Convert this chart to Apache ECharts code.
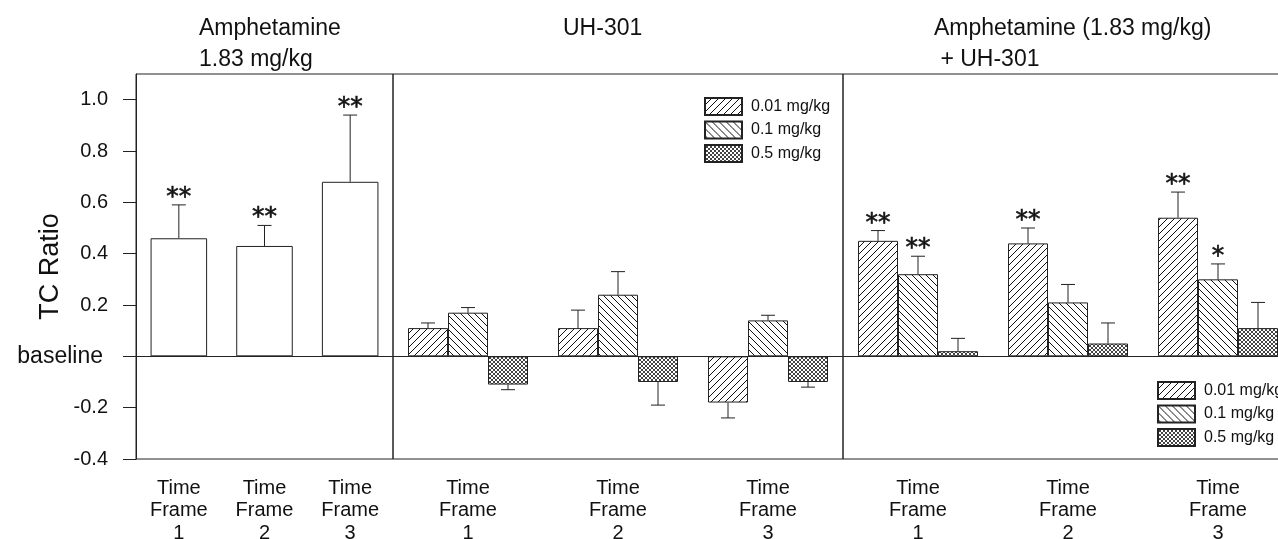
<!DOCTYPE html>
<html><head><meta charset="utf-8">
<script src="https://cdn.jsdelivr.net/npm/echarts@6/dist/echarts.min.js"></script>
<style>html,body{margin:0;padding:0;background:#fff}#c{width:1278px;height:539px}</style>
</head><body><div id="c"></div>
<script>
// ---- data ----
const categories = ['Time\nFrame\n1', 'Time\nFrame\n2', 'Time\nFrame\n3'];
const doseNames = ['0.01 mg/kg', '0.1 mg/kg', '0.5 mg/kg'];
const yTicks = [-0.4, -0.2, 0, 0.2, 0.4, 0.6, 0.8, 1.0];
const panelTitles = ['Amphetamine\n1.83 mg/kg', 'UH-301', 'Amphetamine (1.83 mg/kg)\n + UH-301'];

// Amphetamine alone
const ampMean = [0.46, 0.43, 0.68];
const ampErr  = [0.13, 0.08, 0.26];
const ampSig  = ['**', '**', '**'];

// UH-301 alone
const uh001 = [0.11, 0.11, -0.18];
const uh01  = [0.17, 0.24, 0.14];
const uh05  = [-0.11, -0.10, -0.10];
const uhErr001 = [0.02, 0.07, 0.06];
const uhErr01  = [0.02, 0.09, 0.02];
const uhErr05  = [0.02, 0.09, 0.02];

// Amphetamine + UH-301
const co001 = [0.45, 0.44, 0.54];
const co01  = [0.32, 0.21, 0.30];
const co05  = [0.02, 0.05, 0.11];
const coErr001 = [0.04, 0.06, 0.10];
const coErr01  = [0.07, 0.07, 0.06];
const coErr05  = [0.05, 0.08, 0.10];
const coSig001 = ['**', '**', '**'];
const coSig01  = ['**', '', '*'];
const coSig05  = ['', '', ''];

// ---- styles ----
const FONT = 'Liberation Sans, Arial, Helvetica, sans-serif';
const INK = '#222';

function hatch(kind, size, color) {
  const c = document.createElement('canvas');
  c.width = size; c.height = size;
  const g = c.getContext('2d');
  g.fillStyle = '#fff'; g.fillRect(0, 0, size, size);
  g.strokeStyle = color; g.lineWidth = 1;
  g.beginPath();
  if (kind === 'fwd' || kind === 'cross') {
    g.moveTo(-1, size + 1); g.lineTo(size + 1, -1);
    g.moveTo(-1, 1); g.lineTo(1, -1);
    g.moveTo(size - 1, size + 1); g.lineTo(size + 1, size - 1);
  }
  if (kind === 'back' || kind === 'cross') {
    g.moveTo(-1, -1); g.lineTo(size + 1, size + 1);
    g.moveTo(size - 1, -1); g.lineTo(size + 1, 1);
    g.moveTo(-1, size - 1); g.lineTo(1, size + 1);
  }
  g.stroke();
  return { image: c, repeat: 'repeat' };
}
const fills = [hatch('fwd', 7, '#111'), hatch('back', 7, '#111'), hatch('cross', 4, '#444')];

function errRenderer(means, errs, sigs, k, n, gapRatio) {
  return function (params, api) {
    const i = params.dataIndex;
    const v = means[i], e = errs[i];
    const band = api.size([1, 0])[0];
    const bw = band * (1 - gapRatio) / n;
    const base = api.coord([i, v]);
    const x = base[0] + (k - (n - 1) / 2) * bw;
    const tipY = api.coord([i, v >= 0 ? v + e : v - e])[1];
    const st = { stroke: INK, lineWidth: 1 };
    const ch = [
      { type: 'line', shape: { x1: x, y1: base[1], x2: x, y2: tipY }, style: st },
      { type: 'line', shape: { x1: x - 7, y1: tipY, x2: x + 7, y2: tipY }, style: st }
    ];
    if (sigs && sigs[i]) {
      ch.push({ type: 'text', style: { text: sigs[i], x: x, y: tipY + 5, align: 'center', verticalAlign: 'bottom',
        font: '25px "DejaVu Sans"', fill: '#111', stroke: '#111', lineWidth: 0.6 } });
    }
    return { type: 'group', children: ch };
  };
}

const grids = [
  { left: 136, top: 74, width: 257, height: 385 },
  { left: 393, top: 74, width: 450, height: 385 },
  { left: 843, top: 74, width: 450, height: 385 }
].map(g => Object.assign(g, { show: true, borderColor: INK, borderWidth: 1, backgroundColor: 'transparent',
  containLabel: false, outerBoundsMode: 'none' }));

const xAxes = [0, 1, 2].map(i => ({
  type: 'category', gridIndex: i, data: categories,
  axisLine: { show: false }, axisTick: { show: false },
  axisLabel: { fontSize: 20, lineHeight: 22.5, color: '#111', fontFamily: FONT, margin: 18, interval: 0 }
}));

const yAxes = [0, 1, 2].map(i => ({
  type: 'value', gridIndex: i, min: -0.4, max: 1.1, interval: 0.2,
  show: i === 0,
  splitLine: { show: false },
  axisLine: { show: true, lineStyle: { color: INK } },
  axisTick: { show: true, length: 13, inside: false, lineStyle: { color: INK }, customValues: yTicks },
  axisLabel: {
    customValues: yTicks, margin: 28, fontSize: 20, color: '#111', fontFamily: FONT,
    formatter: v => Math.abs(v) < 1e-9 ? '{b|baseline}' : v.toFixed(1),
    rich: { b: { fontSize: 23, fontFamily: FONT, color: '#111', padding: [0, 5, 0, 0] } }
  },
  name: i === 0 ? 'TC Ratio' : '', nameLocation: 'middle', nameRotate: 90, nameGap: 72, nameMoveOverlap: false,
  nameTextStyle: { fontSize: 27, color: '#111', fontFamily: FONT }
}));

const zeroLine = { silent: true, symbol: 'none', label: { show: false },
  lineStyle: { color: INK, type: 'solid', width: 1 }, emphasis: { disabled: true }, data: [{ yAxis: 0 }] };

const series = [];
// panel 1
series.push({ type: 'bar', name: 'Amphetamine', xAxisIndex: 0, yAxisIndex: 0, data: ampMean, barCategoryGap: '34%',
  itemStyle: { color: '#fff', borderColor: INK, borderWidth: 1 }, markLine: zeroLine, silent: true, legendHoverLink: false });
series.push({ type: 'custom', xAxisIndex: 0, yAxisIndex: 0, data: ampMean.map((v, i) => [i, v]), encode: { x: 0, y: 1 },
  renderItem: errRenderer(ampMean, ampErr, ampSig, 0, 1, 0.34), silent: true, z: 5 });

// panel 2 & 3
const groups = [
  { ax: 1, means: [uh001, uh01, uh05], errs: [uhErr001, uhErr01, uhErr05], sigs: [null, null, null] },
  { ax: 2, means: [co001, co01, co05], errs: [coErr001, coErr01, coErr05], sigs: [coSig001, coSig01, coSig05] }
];
groups.forEach(gp => {
  gp.means.forEach((m, k) => {
    series.push({ type: 'bar', name: doseNames[k], xAxisIndex: gp.ax, yAxisIndex: gp.ax, data: m,
      barGap: '0%', barCategoryGap: '20%', silent: true,
      itemStyle: { color: fills[k], borderColor: INK, borderWidth: 1 },
      markLine: k === 0 ? zeroLine : undefined });
  });
  gp.means.forEach((m, k) => {
    series.push({ type: 'custom', xAxisIndex: gp.ax, yAxisIndex: gp.ax, data: m.map((v, i) => [i, v]), encode: { x: 0, y: 1 },
      renderItem: errRenderer(m, gp.errs[k], gp.sigs[k], k, 3, 0.2), silent: true, z: 5 });
  });
});

const legendBase = {
  data: doseNames, orient: 'vertical', icon: 'rect', itemWidth: 37, itemHeight: 17, itemGap: 4.5, padding: 0,
  selectedMode: false, textStyle: { fontSize: 16, color: '#111', fontFamily: FONT, padding: [0, 0, 0, 4] }
};

const option = {
  animation: false,
  backgroundColor: '#fff',
  title: [
    { text: panelTitles[0], left: 199, top: 13 },
    { text: panelTitles[1], left: 563, top: 13 },
    { text: panelTitles[2], left: 934, top: 13 }
  ].map(t => Object.assign(t, { padding: 0, textStyle: { fontSize: 23, fontWeight: 'normal', color: '#111', fontFamily: FONT, lineHeight: 31 } })),
  legend: [
    Object.assign({}, legendBase, { left: 704, top: 97 }),
    Object.assign({}, legendBase, { left: 1157, top: 381 })
  ],
  grid: grids,
  xAxis: xAxes,
  yAxis: yAxes,
  series: series
};

const chart = echarts.init(document.getElementById('c'), null, { renderer: 'canvas' });
chart.setOption(option);
</script>
</body></html>
